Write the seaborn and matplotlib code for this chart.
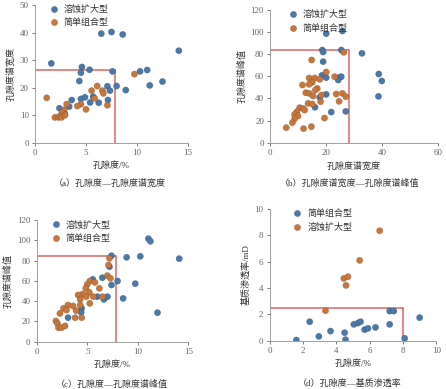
import numpy as np
import pandas as pd
import matplotlib
matplotlib.use("Agg")
import matplotlib.pyplot as plt
import seaborn as sns

sns.set_theme(style="ticks")
plt.rcParams['font.family'] = ['Liberation Serif', 'Noto Sans CJK SC', 'DejaVu Sans']
plt.rcParams['axes.unicode_minus'] = False

BLUE = "#4a78a8"
ORANGE = "#c8773c"
RED = "#dc6464"

DIS = "溶蚀扩大型"
SIM = "简单组合型"

# ---- (a) porosity vs spectrum width ----
a_dis_x = [6.5, 7.5, 8.6, 14.1, 1.6, 4.6, 4.5, 5.35, 7.6, 4.35, 10.3, 11.0, 11.25, 12.5,
           7.1, 8.0, 8.9, 7.35, 7.15, 4.5, 4.9, 5.4, 5.7, 6.25, 3.6, 2.4, 3.35, 2.9]
a_dis_y = [39.6, 40.2, 39.3, 33.4, 28.8, 27.5, 25.4, 26.5, 25.9, 22.4, 25.9, 26.4, 20.8, 22.2,
           20.5, 20.6, 19.1, 18.9, 15.5, 15.9, 16.5, 14.6, 16.7, 14.5, 15.5, 12.5, 13.1, 10.7]
a_sim_x = [1.15, 9.75, 6.1, 5.55, 6.6, 6.7, 5.85, 7.1, 4.5, 4.15, 5.0, 3.1, 2.85, 2.65,
           1.95, 2.3, 2.45, 2.6, 2.95]
a_sim_y = [16.3, 24.9, 20.6, 18.9, 18.9, 17.9, 16.1, 13.6, 14.0, 13.3, 12.1, 14.0, 11.9, 10.9,
           9.2, 9.2, 9.7, 9.2, 10.0]
a_thr = (7.8, 26.5)

# ---- (b) spectrum width vs spectrum peak ----
b_dis_x = [20.0, 25.8, 18.6, 18.9, 25.4, 32.8, 18.9, 18.5, 20.0, 24.8, 25.4, 24.3, 38.8, 39.9,
           38.7, 17.7, 20.0, 16.0, 21.8, 27.0]
b_dis_y = [98.6, 101.0, 83.8, 82.0, 83.8, 80.8, 73.3, 60.9, 58.8, 59.1, 59.7, 56.7, 62.1, 55.8,
           41.9, 41.0, 43.7, 32.0, 27.7, 28.3]
b_sim_x = [14.8, 20.0, 26.3, 23.0, 11.5, 13.9, 15.9, 17.7, 15.0, 13.9, 16.8, 16.1, 12.7, 13.9,
           15.3, 18.3, 23.6, 25.8, 27.0, 24.6, 18.0, 13.5, 15.0, 10.5, 11.7, 12.3, 9.5, 8.7,
           9.9, 8.7, 7.9, 19.4, 5.7, 11.9, 14.7]
b_sim_y = [74.8, 63.9, 81.7, 59.7, 52.2, 58.5, 58.5, 57.3, 54.6, 52.8, 49.1, 47.6, 45.2, 44.6,
           42.2, 43.1, 44.0, 44.6, 41.6, 37.4, 37.1, 35.6, 35.0, 31.7, 31.0, 29.5, 28.0, 25.6,
           24.1, 21.7, 18.1, 22.3, 13.6, 12.7, 14.5]
b_thr = (28.3, 83.8)

# ---- (c) porosity vs spectrum peak ----
c_dis_x = [11.05, 11.25, 7.4, 8.9, 10.25, 14.1, 7.2, 6.5, 5.55, 8.0, 7.4, 9.75, 6.0, 6.65,
           7.0, 8.55, 11.95, 4.45, 4.4, 3.1]
c_dis_y = [101.6, 99.0, 84.8, 83.2, 84.2, 81.9, 74.0, 63.1, 61.5, 59.8, 55.9, 57.2, 44.4, 41.7,
           44.4, 42.7, 28.6, 32.9, 28.9, 23.7]
c_sim_x = [7.2, 7.1, 7.0, 7.3, 5.25, 5.75, 5.0, 4.85, 6.2, 5.2, 4.55, 4.1, 4.9, 5.6, 6.5,
           4.3, 5.25, 4.3, 3.1, 3.6, 2.65, 2.95, 3.9, 2.3, 3.8, 4.45, 1.9, 2.05, 2.15, 2.45, 2.8]
c_sim_y = [82.2, 75.6, 65.1, 62.5, 59.8, 58.5, 56.5, 52.6, 52.6, 48.7, 47.0, 46.0, 44.4, 44.4,
           44.4, 41.7, 37.8, 36.2, 36.2, 35.2, 32.9, 31.2, 30.6, 27.9, 23.7, 23.7, 20.4, 18.1,
           13.8, 13.8, 15.5]
c_thr = (7.8, 84.5)

# ---- (d) porosity vs matrix permeability ----
d_sim_x = [1.6, 2.4, 2.95, 3.65, 4.5, 4.55, 5.05, 5.3, 5.45, 5.7, 5.9, 6.35, 7.2, 7.45,
           7.2, 8.1, 9.0]
d_sim_y = [0.05, 1.44, 0.33, 0.73, 0.61, 0.08, 1.24, 1.34, 1.44, 0.84, 0.94, 1.01, 2.25, 2.25,
           1.24, 0.18, 1.75]
d_dis_x = [6.6, 5.4, 4.45, 4.7, 4.58, 3.35]
d_dis_y = [8.35, 6.1, 4.73, 4.86, 4.2, 2.28]
d_thr = (8.0, 2.5)

W, H = 446, 389
fig = plt.figure(figsize=(W / 100, H / 100), dpi=100)
FS = 6.5
MS = 21


def make_ax(x0, x1, ytop, ybot):
    return fig.add_axes([x0 / W, 1 - ybot / H, (x1 - x0) / W, (ybot - ytop) / H])


def panel(ax, groups, colors, thr, xlim, ylim, xticks, yticks, xlabel, ylabel,
          caption, cap_xy, leg_x):
    df = pd.concat([pd.DataFrame({"x": xs, "y": ys, "type": n}) for n, xs, ys in groups],
                   ignore_index=True)
    order = [g[0] for g in groups]
    pal = dict(zip(order, colors))
    sns.scatterplot(data=df, x="x", y="y", hue="type", hue_order=order, palette=pal,
                    s=MS, edgecolor="#00000035", linewidth=0.4, ax=ax, zorder=3)
    tx, ty = thr
    ax.plot([xlim[0], tx], [ty, ty], color=RED, lw=1.1, zorder=2)
    ax.plot([tx, tx], [ylim[0], ty], color=RED, lw=1.1, zorder=2)
    ax.set_xlim(*xlim)
    ax.set_ylim(*ylim)
    ax.set_xticks(xticks)
    ax.set_yticks(yticks)
    ax.set_xlabel(xlabel, fontsize=FS, labelpad=3, color="#333333")
    ax.set_ylabel(ylabel, fontsize=FS, labelpad=3, color="#333333")
    ax.tick_params(labelsize=FS, length=2.5, width=0.6, colors="#666666", pad=2)
    for s in ("top", "right"):
        ax.spines[s].set_visible(False)
    for s in ("left", "bottom"):
        ax.spines[s].set_color("#a0a0a0")
        ax.spines[s].set_linewidth(0.7)
    leg = ax.legend(loc="upper left", bbox_to_anchor=(leg_x, 1.04), frameon=False,
                    fontsize=FS, handletextpad=0.1, borderaxespad=0.2, labelspacing=0.5)
    for t in leg.get_texts():
        t.set_color("#333333")
    fig.text(*cap_xy, caption, fontsize=FS, ha="center", va="center", color="#333333")


ax_a = make_ax(35, 188, 5, 142.7)
panel(ax_a, [(DIS, a_dis_x, a_dis_y), (SIM, a_sim_x, a_sim_y)], [BLUE, ORANGE], a_thr,
      (0, 15), (0, 50), [0, 5, 10, 15], [0, 10, 20, 30, 40, 50], "孔隙度/%", "孔隙度谱宽度",
      "（a）孔隙度—孔隙度谱宽度", (110 / W, 1 - 183 / H), 0.03)

ax_b = make_ax(270.3, 438, 10, 142.7)
panel(ax_b, [(DIS, b_dis_x, b_dis_y), (SIM, b_sim_x, b_sim_y)], [BLUE, ORANGE], b_thr,
      (0, 60), (0, 120), [0, 20, 40, 60], [0, 20, 40, 60, 80, 100, 120], "孔隙度谱宽度",
      "孔隙度谱峰值", "（b）孔隙度谱宽度—孔隙度谱峰值", (350 / W, 1 - 183 / H), 0.05)

ax_c = make_ax(36.7, 188.3, 220, 341.7)
panel(ax_c, [(DIS, c_dis_x, c_dis_y), (SIM, c_sim_x, c_sim_y)], [BLUE, ORANGE], c_thr,
      (0, 15), (0, 120), [0, 5, 10, 15], [0, 20, 40, 60, 80, 100, 120], "孔隙度/%",
      "孔隙度谱峰值", "（c）孔隙度—孔隙度谱峰值", (112 / W, 1 - 384 / H), 0.03)

ax_d = make_ax(269.7, 436.3, 209, 340.7)
panel(ax_d, [(SIM, d_sim_x, d_sim_y), (DIS, d_dis_x, d_dis_y)], [BLUE, ORANGE], d_thr,
      (0, 10), (0, 10), [0, 2, 4, 6, 8, 10], [0, 2, 4, 6, 8, 10], "孔隙度/%",
      "基质渗透率/mD", "（d）孔隙度—基质渗透率", (350 / W, 1 - 383 / H), 0.08)

fig.savefig("out.png", dpi=100)
